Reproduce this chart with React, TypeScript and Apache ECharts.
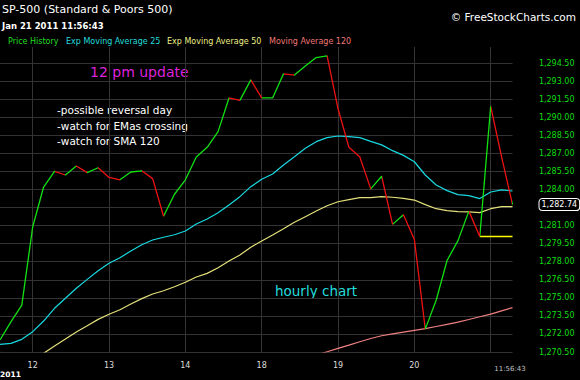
import React, { useEffect, useRef } from "react";
import * as echarts from "echarts";

// ---- data ----
const days = ["11", "12", "13", "14", "18", "19", "20", "21"];
const hours = ["09:30", "10:30", "11:30", "12:30", "13:30", "14:30", "15:30"];

const price = [
  1271.5, 1273.0, 1274.4, 1280.9, 1284.2, 1285.5, 1285.2, 1285.95, 1285.4, 1285.8,
  1285.0, 1284.8, 1285.45, 1285.55, 1284.9, 1281.77, 1283.6, 1284.8, 1286.7, 1287.5,
  1288.8, 1291.6, 1291.4, 1293.1, 1291.6, 1291.6, 1293.6, 1293.5, 1294.25, 1294.95,
  1295.1, 1290.7, 1287.5, 1286.7, 1284.05, 1285.1, 1281.1, 1281.9, 1279.85, 1272.4,
  1274.8, 1278.1, 1279.75, 1282.2, 1280.1, 1290.9, 1286.7, 1282.74,
];
const ema25 = [
  1271.14, 1271.22, 1271.55, 1272.19, 1273.07, 1274.13, 1274.96, 1275.79, 1276.53, 1277.25,
  1277.87, 1278.33, 1278.89, 1279.41, 1279.8, 1280.03, 1280.24, 1280.55, 1281.13, 1281.55,
  1282.07, 1282.71, 1283.4, 1284.23, 1284.84, 1285.28, 1286.03, 1286.72, 1287.42, 1287.97,
  1288.3, 1288.44, 1288.38, 1288.3, 1287.99, 1287.7, 1287.22, 1286.83, 1286.3, 1285.2,
  1284.37, 1283.9, 1283.57, 1283.49, 1283.24, 1283.79, 1283.96, 1283.87,
];
const ema50 = [
  null, null, null, 1269.8, 1270.39, 1271.0, 1271.58, 1272.16, 1272.68, 1273.21,
  1273.63, 1274.01, 1274.49, 1274.93, 1275.32, 1275.59, 1275.92, 1276.29, 1276.73, 1277.03,
  1277.5, 1278.06, 1278.56, 1279.2, 1279.72, 1280.22, 1280.74, 1281.27, 1281.74, 1282.21,
  1282.65, 1282.98, 1283.15, 1283.32, 1283.32, 1283.4, 1283.35, 1283.26, 1283.12, 1282.74,
  1282.4, 1282.24, 1282.15, 1282.13, 1282.07, 1282.4, 1282.57, 1282.57,
];
const ma120 = [
  null, null, null, null, null, null, null, null, null, null,
  null, null, null, null, null, null, null, null, null, null,
  null, null, null, null, null, null, null, null, 1269.98, 1270.25,
  1270.52, 1270.8, 1271.07, 1271.35, 1271.62, 1271.85, 1272.0, 1272.15, 1272.3, 1272.44,
  1272.62, 1272.8, 1272.98, 1273.2, 1273.43, 1273.65, 1273.92, 1274.18,
];
const supportLine = [
  null, null, null, null, null, null, null, null, null, null,
  null, null, null, null, null, null, null, null, null, null,
  null, null, null, null, null, null, null, null, null, null,
  null, null, null, null, null, null, null, null, null, null,
  null, null, null, null, 1280.1, 1280.1, 1280.1, 1280.1,
];
const yMin = 1270.5;
const yMax = 1295.83;
const yStep = 1.5;

const legendItems = [
  { name: "Price History", color: "#22dd22" },
  { name: "Exp Moving Average 25", color: "#22dddd" },
  { name: "Exp Moving Average 50", color: "#eeee88" },
  { name: "Moving Average 120", color: "#f07878" },
];
const notes = ["-possible reversal day", "-watch for EMas crossing", "-watch for SMA 120"];

// categories: last 3 bars of Jan 11, full sessions, first 3 bars of Jan 21
const categories: string[] = [];
days.forEach((d, di) => {
  hours.forEach((h, hi) => {
    if (di === 0 && hi < 4) return;
    if (di === days.length - 1 && hi > 2) return;
    categories.push(`${d} ${h}`);
  });
});

const GREEN = "#11e011";
const RED = "#ee1111";
const FONT = "DejaVu Sans";

const fmt = (v: number) => {
  const s = v.toFixed(2);
  const [i, d] = s.split(".");
  return i.replace(/\B(?=(\d{3})+(?!\d))/g, ",") + "." + d;
};

export default function App() {
  const ref = useRef<HTMLDivElement>(null);
  useEffect(() => {
    document.body.style.margin = "0";
    const chart = echarts.init(ref.current!, null, { renderer: "svg" });
    const last = price[price.length - 1];
    const pieces = price.slice(0, -1).map((v, i) => {
      const p: any = { gte: i, color: price[i + 1] >= v ? GREEN : RED };
      if (i === price.length - 2) p.lte = i + 1;
      else p.lt = i + 1;
      return p;
    });
    const isDayStart = (idx: number) => categories[idx] && categories[idx].endsWith(hours[0]);
    let lx = 8;
    const legendWidths = [58, 101, 102, 90];
    const graphics: any[] = [
      { type: "text", x: 2, y: 9, style: { text: "SP-500 (Standard & Poors 500)", fill: "#ffffff", font: `11px '${FONT}'`, verticalAlign: "middle" } },
      { type: "text", x: 2, y: 26, style: { text: "Jan 21 2011 11:56:43", fill: "#ffffff", font: `bold 8.5px '${FONT}'`, verticalAlign: "middle" } },
      { type: "text", x: 576, y: 17, style: { text: "© FreeStockCharts.com", fill: "#ffffff", font: `10.5px '${FONT}'`, align: "right", verticalAlign: "middle" } },
      { type: "text", x: 90, y: 72, style: { text: "12 pm update", fill: "#dd22dd", font: `14px '${FONT}'`, verticalAlign: "middle" } },
      { type: "text", x: 275, y: 291, style: { text: "hourly chart", fill: "#22dddd", font: `13.5px '${FONT}'`, verticalAlign: "middle" } },
      { type: "text", x: 0, y: 374, style: { text: "2011", fill: "#ffffff", font: `bold 7.5px '${FONT}'`, verticalAlign: "middle" } },
      { type: "text", x: 510, y: 369, style: { text: "11:56:43", fill: "#c0c0c0", font: `7px '${FONT}'`, align: "center", verticalAlign: "middle" } },
    ];
    notes.forEach((t, i) => {
      graphics.push({ type: "text", x: 57, y: 110 + i * 15.5, style: { text: t, fill: "#ffffff", font: `10.5px '${FONT}'`, verticalAlign: "middle" } });
    });
    legendItems.forEach((it, i) => {
      graphics.push({ type: "text", x: lx, y: 41.5, style: { text: it.name, fill: it.color, font: `8px '${FONT}'`, verticalAlign: "middle" } });
      lx += legendWidths[i];
    });

    chart.setOption({
      animation: false,
      backgroundColor: "#000000",
      grid: { left: 0, right: 67.5, top: 47, bottom: 28, containLabel: false },
      xAxis: {
        type: "category",
        data: categories,
        boundaryGap: false,
        axisLine: { show: false },
        axisTick: { show: false },
        axisLabel: {
          color: "#dddddd",
          fontFamily: FONT,
          fontSize: 8,
          margin: 9,
          interval: (idx: number) => isDayStart(idx) && idx < categories.length - 3,
          formatter: (v: string) => v.split(" ")[0],
        },
        splitLine: {
          show: true,
          interval: (idx: number) => !!isDayStart(idx),
          lineStyle: { color: "#333333", width: 1 },
        },
      },
      yAxis: {
        type: "value",
        position: "right",
        min: yMin,
        max: yMax,
        interval: yStep,
        axisLine: { show: false },
        axisTick: { show: false },
        axisLabel: {
          color: "#11dd11",
          fontFamily: FONT,
          fontSize: 8,
          align: "right",
          margin: 62,
          showMaxLabel: false,
          // the tick label hidden behind the last-price box is left blank
          formatter: (v: number) => (Math.abs(v - last) < 0.9 ? "" : fmt(v)),
        },
        splitLine: { show: true, showMaxLine: false, lineStyle: { color: "#333333", width: 1 } },
      },
      visualMap: {
        show: false,
        type: "piecewise",
        dimension: 0,
        seriesIndex: 4,
        pieces,
        outOfRange: { color: GREEN },
      },
      series: [
        { name: "Moving Average 120", type: "line", data: ma120, symbol: "none", lineStyle: { color: "#f08080", width: 1.2 }, itemStyle: { color: "#f08080" } },
        { name: "Exp Moving Average 50", type: "line", data: ema50, symbol: "none", lineStyle: { color: "#e4e07a", width: 1.2 }, itemStyle: { color: "#e4e07a" } },
        { name: "Exp Moving Average 25", type: "line", data: ema25, symbol: "none", lineStyle: { color: "#18d8e0", width: 1.2 }, itemStyle: { color: "#18d8e0" } },
        { name: "Support", type: "line", data: supportLine, symbol: "none", lineStyle: { color: "#ffff00", width: 1.5 }, itemStyle: { color: "#ffff00" } },
        {
          name: "Price History",
          type: "line",
          data: price,
          symbol: "none",
          lineStyle: { width: 1.3 },
          markLine: {
            silent: true,
            symbol: "none",
            lineStyle: { width: 0, color: "rgba(0,0,0,0)", opacity: 1 },
            label: {
              show: true,
              position: "end",
              distance: 27,
              formatter: () => fmt(last),
              color: "#ffffff",
              opacity: 1,
              fontFamily: FONT,
              fontSize: 8,
              backgroundColor: "#000000",
              borderColor: "#ffffff",
              borderWidth: 1,
              borderRadius: 3,
              padding: [2, 2, 1, 2],
            },
            data: [{ yAxis: last }],
          },
        },
      ],
      graphic: graphics,
    });
    return () => chart.dispose();
  }, []);
  return <div ref={ref} style={{ position: "fixed", left: 0, top: 0, width: 580, height: 380 }} />;
}
